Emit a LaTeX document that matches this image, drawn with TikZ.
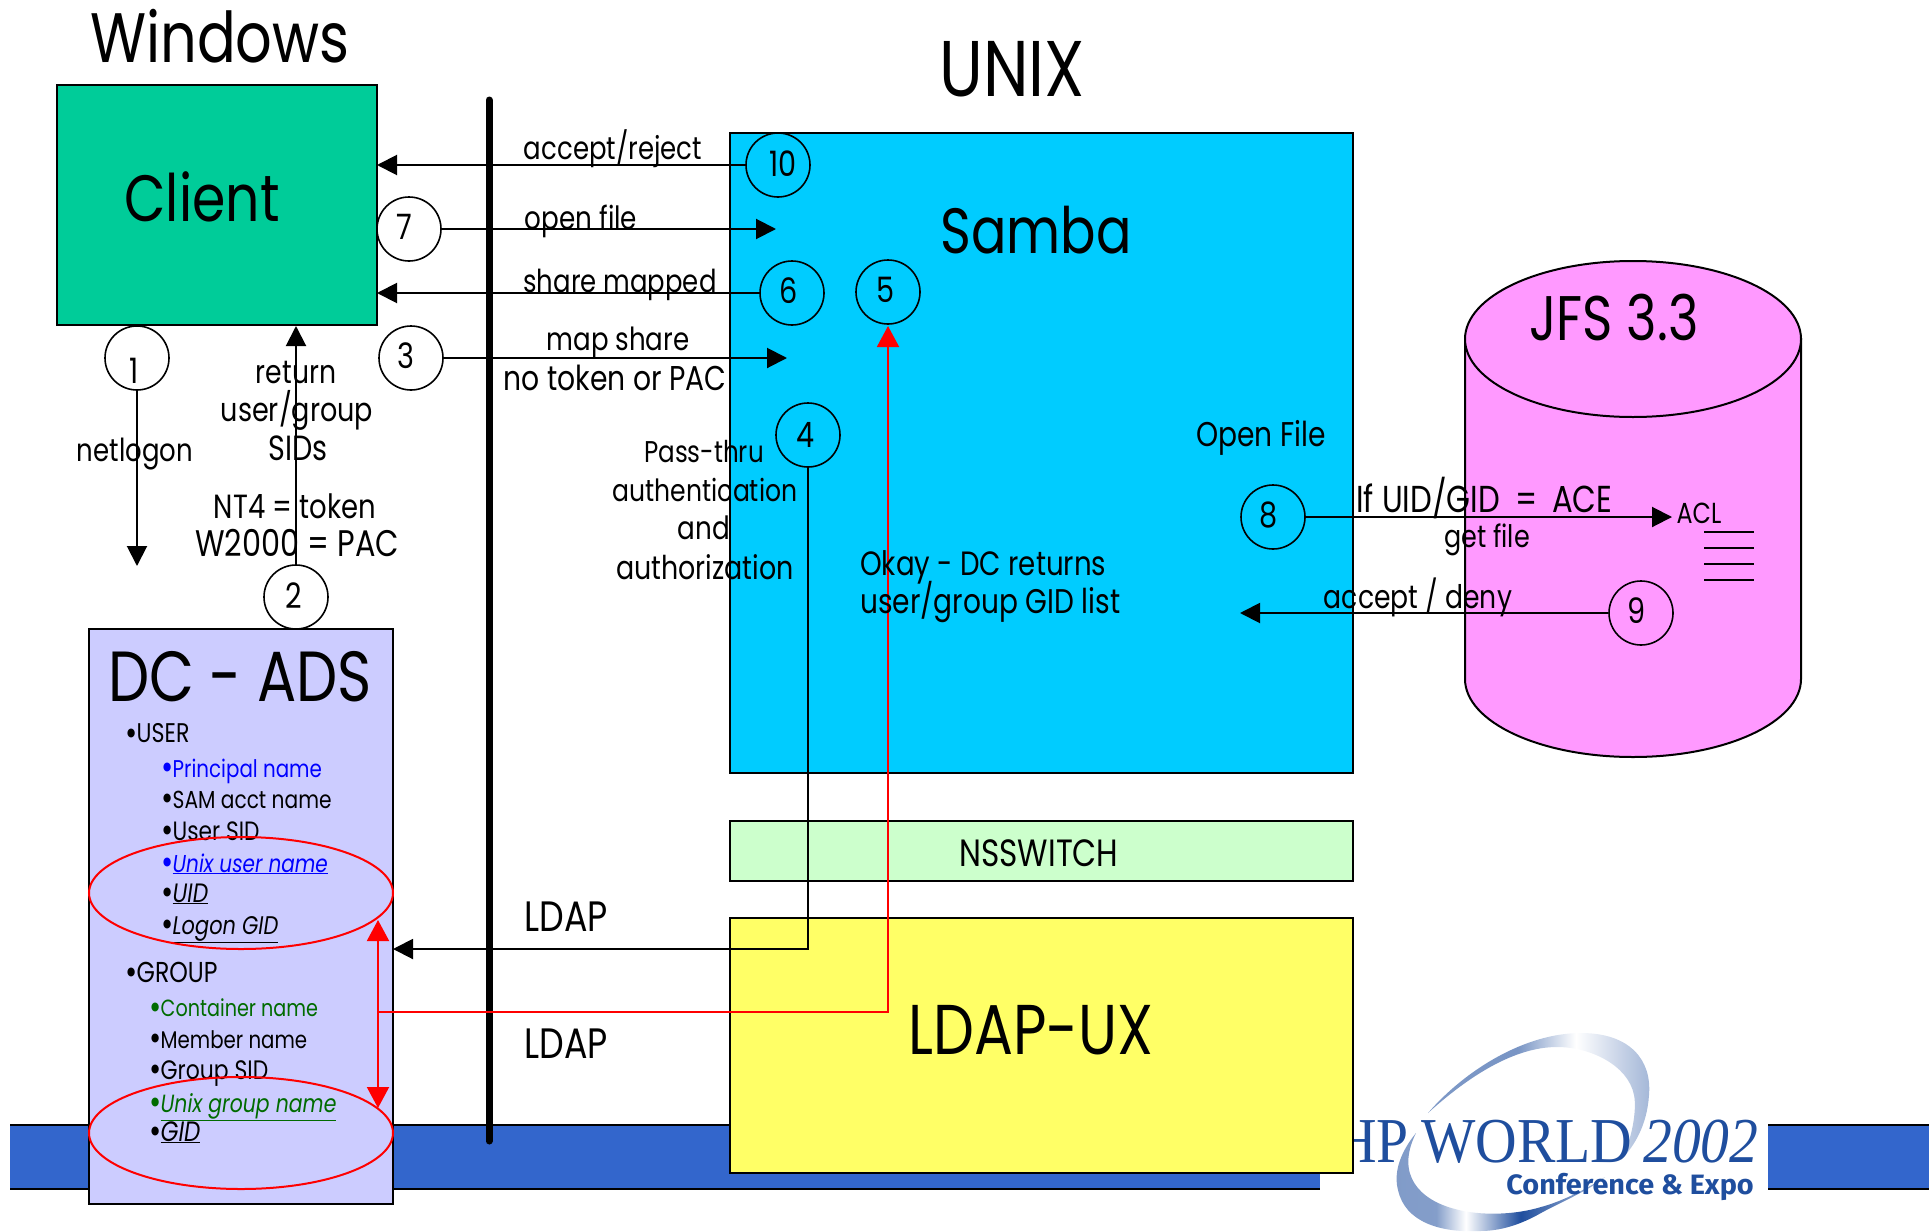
\documentclass[tikz,border=0pt]{standalone}
\usepackage{fontspec}
\usetikzlibrary{arrows.meta}
\setmainfont[FakeStretch=0.82]{Poppins}
\newfontfamily\logofont[FakeStretch=0.9]{Liberation Serif}
\newfontfamily\logosans[FakeStretch=1.03]{Fira Sans}
\definecolor{clientc}{HTML}{00CC99}
\definecolor{sambac}{HTML}{00CCFF}
\definecolor{jfsc}{HTML}{FF99FF}
\definecolor{nssc}{HTML}{CCFFCC}
\definecolor{ldapc}{HTML}{FFFF66}
\definecolor{dcc}{HTML}{CCCCFF}
\definecolor{bandc}{HTML}{3366CC}
\definecolor{logoc}{HTML}{1F4E9E}
\definecolor{grn}{HTML}{006B00}
\definecolor{blu}{HTML}{0000FF}
\pgfdeclarehorizontalshading{swooshtop}{100bp}{color(0bp)=(logoc!55);color(45bp)=(logoc!60);color(58bp)=(white);color(70bp)=(logoc!30);color(100bp)=(logoc)}
\pgfdeclarehorizontalshading{swooshbot}{100bp}{color(0bp)=(logoc!60);color(35bp)=(logoc!55);color(42bp)=(white);color(55bp)=(logoc);color(70bp)=(logoc!50);color(100bp)=(white)}
\newcommand{\fs}[1]{\fontsize{#1}{#1}\selectfont}
\newcommand{\bl}{\makebox[11.5pt][l]{\smash{\raisebox{-2.5pt}{\fs{36}\textbullet}}}}
\tikzset{
  box/.style={draw=black,line width=2pt},
  lab/.style={inner sep=0pt,font=\fs{31},text=black},
  big/.style={inner sep=0pt,font=\fs{69},text=black},
  item/.style={inner sep=0pt,anchor=base west,yshift=-1pt},
  num/.style={circle,draw=black,line width=1.6pt,minimum size=64pt,inner sep=0pt},
  numlab/.style={inner sep=0pt,font=\fs{35}},
  conn/.style={draw=black,line width=2pt,-{Triangle[length=20pt,width=20pt]}},
  plain/.style={draw=black,line width=2pt},
  redconn/.style={draw=red,line width=2pt},
  redtip/.style={{Triangle[length=21pt,width=22pt]}-{Triangle[length=21pt,width=22pt]}}
}
\begin{document}
\begin{tikzpicture}[x=1pt,y=-1pt]
\useasboundingbox (0,0) rectangle (1929,1231);
% bands
\fill[bandc] (10,1125) rectangle (1320,1189);
\draw[line width=2pt] (10,1125) -- (1320,1125) (10,1189) -- (1320,1189);
\fill[bandc] (1768,1125) rectangle (1929,1189);
\draw[line width=2pt] (1929,1125) -- (1768,1125) (1768,1189) -- (1929,1189);
% logo
\shade[shading=swooshtop] (1428,1113) .. controls (1465,1070) and (1525,1033) .. (1581,1033)
  .. controls (1630,1033) and (1652,1060) .. (1649,1095)
  .. controls (1647,1125) and (1635,1145) .. (1621,1160)
  .. controls (1632,1140) and (1637,1110) .. (1634,1095)
  .. controls (1628,1065) and (1590,1047) .. (1557,1047)
  .. controls (1515,1047) and (1470,1075) .. (1428,1113) -- cycle;
\shade[shading=swooshbot] (1416,1133) .. controls (1398,1155) and (1394,1175) .. (1398,1190)
  .. controls (1405,1222) and (1440,1233) .. (1480,1231)
  .. controls (1500,1231) and (1520,1225) .. (1541,1213)
  .. controls (1565,1200) and (1590,1190) .. (1605,1177)
  .. controls (1585,1190) and (1560,1202) .. (1541,1207)
  .. controls (1515,1215) and (1480,1216) .. (1455,1209)
  .. controls (1420,1200) and (1395,1175) .. (1416,1133) -- cycle;
\node[inner sep=0pt,anchor=base east,text=logoc,font=\fs{64}\logofont] (hp) at (1409,1162) {HP};
\node[inner sep=0pt,anchor=base west,text=logoc,font=\fs{64}\logofont] (hpw) at (1421,1162) {WORLD};
\node[inner sep=0pt,anchor=base west,text=logoc,font=\fs{64}\logofont\itshape] (yr) at (1643,1162) {2002};
\node[inner sep=0pt,anchor=base east,text=logoc,font=\fs{28}\logosans\bfseries] (conf) at (1754,1194) {Conference \& Expo};
% boxes
\node[box,fill=clientc,minimum width=320pt,minimum height=240pt,anchor=north west,inner sep=0pt] (client) at (56,84) {};
\node[box,fill=sambac,minimum width=623pt,minimum height=640pt,anchor=north west,inner sep=0pt] (samba) at (729,132) {};
\node[box,fill=nssc,minimum width=623pt,minimum height=60pt,anchor=north west,inner sep=0pt] (nss) at (729,820) {};
\node[box,fill=ldapc,minimum width=623pt,minimum height=255pt,anchor=north west,inner sep=0pt] (ldap) at (729,917) {};
\node[box,fill=dcc,minimum width=304pt,minimum height=575pt,anchor=north west,inner sep=0pt] (dc) at (88,628) {};
% cylinder
\path[box,fill=jfsc] (1465,339) -- (1465,679) arc[start angle=180,end angle=0,x radius=168,y radius=78] -- (1801,339) -- cycle;
\path[box,fill=jfsc] (1633,339) circle[x radius=168,y radius=78];
% bar
\draw[black,line width=7pt,line cap=round] (489,100) -- (489,1141);
% titles
\node[big,font=\fs{70}] (twin) at (220,36) {Windows};
\node[big,font=\fs{79}] (tunix) at (1012,69) {UNIX};
\node[big,font=\fs{65.5}] (tclient) at (202,197) {Client};
\node[big,font=\fs{64}] (tsamba) at (1036,230) {Samba};
\node[big,font=\fs{63}] (tjfs) at (1614,318) {JFS 3.3};
\node[big,font=\fs{70.5}] (tldap) at (1031,1030) {LDAP-UX};
\node[lab,font=\fs{38}] (tnss) at (1039,853) {NSSWITCH};
\node[big,font=\fs{71}] (tdc) at (240,677) {DC - ADS};
% dc items
\node[item,font=\fs{27}] (u0) at (125,741.5) {\bl USER};
\node[item,font=\fs{24.2},text=blu] (u1) at (161,776) {\bl Principal name};
\node[item,font=\fs{24.6}] (u2) at (161,807) {\bl SAM acct name};
\node[item,font=\fs{26.5}] (u3) at (161,839) {\bl User SID};
\node[item,font=\fs{24.4},text=blu] (u4) at (161,871) {\bl\underline{\itshape Unix user name}};
\node[item,font=\fs{26.6}] (u5) at (161,901) {\bl\underline{\itshape UID}};
\node[item,font=\fs{25.5}] (u6) at (161,933) {\bl\underline{\itshape Logon GID}};
\node[item,font=\fs{28.8}] (g0) at (125,981) {\bl GROUP};
\node[item,font=\fs{23.4},text=grn] (g1) at (149,1015.5) {\bl Container name};
\node[item,font=\fs{24.1}] (g2) at (149,1047) {\bl Member name};
\node[item,font=\fs{26.7}] (g3) at (149,1078) {\bl Group SID};
\node[item,font=\fs{24.9},text=grn] (g4) at (149,1111) {\bl\underline{\itshape Unix group name}};
\node[item,font=\fs{28}] (g5) at (149,1140) {\bl\underline{\itshape GID}};
% red ovals
\draw[red,line width=2pt] (241,893) circle[x radius=152,y radius=56];
\draw[red,line width=2pt] (241,1133) circle[x radius=152,y radius=56];
% circles
\node[num] (c10) at (778,165) {};
\node[num] (c7) at (409,229) {};
\node[num] (c6) at (792,293) {};
\node[num] (c5) at (888,292) {};
\node[num] (c3) at (411,358) {};
\node[num] (c1) at (137,358) {};
\node[num] (c2) at (296,597) {};
\node[num] (c4) at (808,435) {};
\node[num] (c8) at (1273,517) {};
\node[num] (c9) at (1641,613) {};
\node[numlab,xshift=5pt,yshift=1pt] (n10) at (c10) {10};
\node[numlab,xshift=-5pt,yshift=2pt] (n7) at (c7) {7};
\node[numlab,xshift=-3pt,yshift=2pt] (n6) at (c6) {6};
\node[numlab,xshift=-3pt,yshift=2pt] (n5) at (c5) {5};
\node[numlab,xshift=-5pt,yshift=2pt] (n3) at (c3) {3};
\node[numlab,xshift=-3pt,yshift=-13pt] (n1) at (c1) {1};
\node[numlab,xshift=-2pt,yshift=1pt] (n2) at (c2) {2};
\node[numlab,xshift=-2pt] (n4) at (c4) {4};
\node[numlab,xshift=-4pt,yshift=2pt] (n8) at (c8) {8};
\node[numlab,xshift=-4pt,yshift=2pt] (n9) at (c9) {9};
% connector end points
\coordinate (p10) at (377,165);
\coordinate (p7) at (776,229);
\coordinate (p6) at (377,293);
\coordinate (p3) at (787,358);
\coordinate (p1) at (137,566);
\coordinate (p2) at (296,326);
\coordinate (p8) at (1672,517);
\coordinate (p9) at (1240,613);
\coordinate (p4a) at (808,949);
\coordinate (p4b) at (393,949);
\coordinate (p5a) at (888,1012);
\coordinate (p5b) at (378,1012);
\coordinate (r1) at (378,920);
\coordinate (r2) at (378,1108);
\coordinate (p5t) at (888,326);
% connectors
\draw[conn] (c10) -- (p10);
\draw[conn] (c7) -- (p7);
\draw[conn] (c6) -- (p6);
\draw[conn] (c3) -- (p3);
\draw[conn] (c1) -- (p1);
\draw[conn] (c2) -- (p2);
\draw[conn] (c8) -- (p8);
\draw[conn] (c9) -- (p9);
\draw[conn] (c4) -- (p4a) -- (p4b);
\draw[redconn,-{Triangle[length=21pt,width=22pt]}] (p5b) -- (p5a) -- (p5t);
\draw[redconn,redtip] (r1) -- (r2);
% ACL
\node[inner sep=0pt,font=\fs{29}] (acl) at (1699,513) {ACL};
\coordinate (a1) at (1704,532); \coordinate (a1e) at (1754,532);
\coordinate (a2) at (1704,548); \coordinate (a2e) at (1754,548);
\coordinate (a3) at (1704,564); \coordinate (a3e) at (1754,564);
\coordinate (a4) at (1704,580); \coordinate (a4e) at (1754,580);
\draw[plain] (a1) -- (a1e) (a2) -- (a2e) (a3) -- (a3e) (a4) -- (a4e);
% labels
\node[lab,font=\fs{31.7}] (l1) at (613,149) {accept/reject};
\node[lab,font=\fs{32}] (l2) at (581,221) {open file};
\node[lab,font=\fs{31.6}] (l3) at (620,285) {share mapped};
\node[lab,font=\fs{31.8}] (l4) at (618,343) {map share};
\node[lab,font=\fs{34.4}] (l5) at (615,378) {no token or PAC};
\node[lab,font=\fs{32.5}] (l6) at (296,372) {return};
\node[lab,font=\fs{33}] (l7) at (297,410) {user/group};
\node[lab,font=\fs{35}] (l8) at (298,448) {SIDs};
\node[lab,font=\fs{31.7}] (l9) at (135,454) {netlogon};
\node[lab,font=\fs{33.5}] (l10) at (295,506) {NT4 = token};
\node[lab,font=\fs{37}] (l11) at (297,543) {W2000 = PAC};
\node[lab,font=\fs{30}] (l12) at (704,452) {Pass-thru};
\node[lab,font=\fs{30.6}] (l13) at (705,490) {authentication};
\node[lab,font=\fs{32}] (l14) at (704,528) {and};
\node[lab,font=\fs{32.8}] (l15) at (705,567) {authorization};
\node[lab,anchor=west,font=\fs{33.7}] (l16) at (860,567) {Okay - DC returns};
\node[lab,anchor=west,font=\fs{34.2}] (l17) at (860,602) {user/group GID list};
\node[lab,font=\fs{34.3}] (l18) at (1261,438) {Open File};
\node[lab,anchor=west,font=\fs{37.5}] (l19) at (1356,498) {If UID/GID\hspace{15pt}=\hspace{15pt}ACE};
\node[lab] (l20) at (1487,540) {get file};
\node[lab,font=\fs{32.5}] (l21) at (1418,597) {accept / deny};
\node[lab,font=\fs{42.5}] (l22) at (566,917) {LDAP};
\node[lab,font=\fs{42.5}] (l23) at (566,1044) {LDAP};
\end{tikzpicture}
\end{document}
